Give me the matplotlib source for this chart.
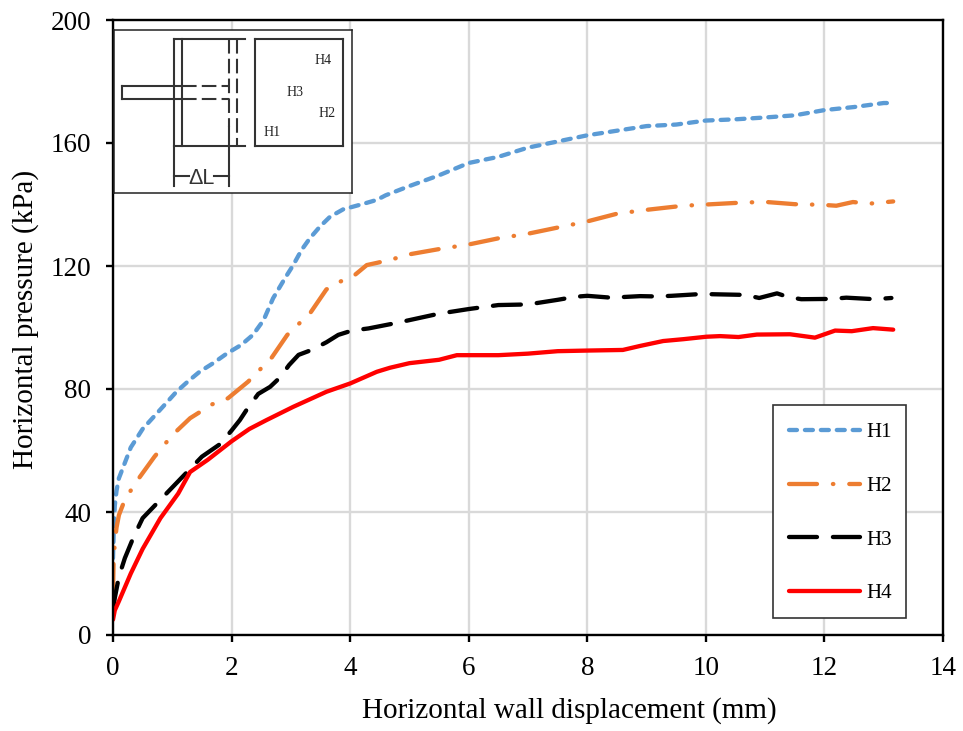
import matplotlib
matplotlib.use("Agg")
import matplotlib.pyplot as plt
from matplotlib.patches import Rectangle

plt.rcParams["font.family"] = ["Liberation Serif", "DejaVu Serif"]

# 곡선 값
h1_x = [0, 0.01, 0.03, 0.06, 0.1, 0.2, 0.3, 0.5, 0.84, 1.07, 1.26, 1.46, 1.69, 1.91, 2.16, 2.36, 2.54, 2.7, 2.9,
        3.04, 3.18, 3.32, 3.49, 3.66, 3.88, 4.22, 4.45, 4.6, 5.0, 5.5, 6.0, 6.5, 7.0, 7.5, 8.0, 8.5, 9.0, 9.5,
        10.0, 10.5, 11.0, 11.5, 12.0, 12.5, 13.0, 13.15]
h1_y = [25, 32, 42, 47, 51, 56, 61, 67, 74.2, 79.1, 82.4, 85.6, 88.4, 91.4, 94.3, 97.6, 102.4, 109.5, 116,
        120.3, 125.2, 129, 132.8, 136, 138.4, 140.2, 141.5, 143, 146, 149.5, 153.5, 155.5, 158.5, 160.5, 162.5, 164, 165.5, 166,
        167.3, 167.7, 168.3, 169, 170.7, 171.7, 173, 173]

h2_x = [0, 0.01, 0.03, 0.06, 0.1, 0.2, 0.4, 0.7, 1.0, 1.3, 1.67, 1.94, 2.28, 2.68, 2.94, 3.33, 3.6, 3.83,
        4.08, 4.28, 4.47, 4.73, 5.0, 5.5, 6.0, 6.5, 7.0, 7.5, 8.0, 8.5, 8.97, 9.48, 9.73, 10.01, 10.49, 10.74, 11.03,
        11.5, 11.76, 12.04, 12.2, 12.48, 12.77, 13.16]
h2_y = [14, 24, 30, 35, 39, 44, 50, 58, 65, 70.5, 75, 77, 82.4, 90.3, 97.6, 104.8, 112.4, 114.9,
        117.1, 120.3, 121.1, 122.3, 123.8, 125.5, 127, 129, 130.5, 132.5, 134.5, 137, 138.2, 139.3, 139.7, 140, 140.5, 140.7, 140.8,
        140.1, 140, 139.8, 139.6, 140.8, 140.3, 141]

h3_x = [0, 0.03, 0.1, 0.2, 0.35, 0.5, 0.7, 1.0, 1.2, 1.5, 1.8, 2.0, 2.14, 2.28, 2.45, 2.65, 2.82, 2.97, 3.13, 3.35, 3.6,
        3.8, 4.03, 4.31, 4.76, 5.0, 5.5, 6.0, 6.5, 7.0, 7.5, 7.8, 8.0, 8.4, 8.89, 9.17, 9.42, 9.93, 10.15, 10.66, 10.9, 11.2,
        11.39, 11.61, 12.12, 12.37, 12.85, 13.13]
h3_y = [8, 12, 19, 25, 32, 38, 42, 48, 52, 58, 62, 66.5, 69.9, 74, 78.4, 80.7, 83.8, 87.8, 91.1, 92.7, 95.2,
        97.6, 99, 99.7, 101.4, 102.4, 104.5, 106, 107.3, 107.5, 109, 110, 110.3, 109.7, 110.2, 110.1, 110.3, 110.9, 110.8, 110.6, 109.6, 111.1,
        109.9, 109.2, 109.3, 109.7, 109.2, 109.6]

h4_x = [0, 0.03, 0.1, 0.3, 0.5, 0.8, 1.1, 1.3, 1.6, 2.0, 2.3, 2.59, 3.04, 3.6, 4.0, 4.45, 4.67,
        5.0, 5.5, 5.8, 6.0, 6.5, 7.0, 7.5, 8.0, 8.6, 8.89, 9.28, 9.62, 10.01, 10.24, 10.55, 10.86, 11.42, 11.84,
        12.18, 12.46, 12.82, 13.16]
h4_y = [5, 8, 11, 20, 28, 38, 46, 53, 57, 63, 67, 69.9, 74.2, 79.1, 81.8, 85.6, 86.9,
        88.4, 89.5, 91, 91, 91, 91.5, 92.3, 92.5, 92.7, 94, 95.6, 96.2, 97, 97.2, 96.9, 97.7, 97.8, 96.7,
        99, 98.8, 99.8, 99.3]

x_ticks = [0, 2, 4, 6, 8, 10, 12, 14]
y_ticks = [0, 40, 80, 120, 160, 200]

W, H = 963, 731
fig = plt.figure(figsize=(W / 100, H / 100), dpi=100)
ax = fig.add_axes([113 / W, 1 - 635 / H, 830 / W, 615 / H])

lw = 3.1
ax.plot(h1_x, h1_y, color="#5B9BD5", lw=lw, ls=(0, (1.85, 1.85)), dash_capstyle="round", label="H1")
ax.plot(h2_x, h2_y, color="#ED7D31", lw=lw, ls=(0, (6.5, 3.7, 0.1, 3.7)), dash_capstyle="round", label="H2")
ax.plot(h3_x, h3_y, color="black", lw=lw, ls=(0, (6.5, 3.7)), dash_capstyle="round", label="H3")
ax.plot(h4_x, h4_y, color="#FF0000", lw=lw, solid_capstyle="round", label="H4")

ax.set_xlim(0, 14)
ax.set_ylim(0, 200)
ax.set_xticks(x_ticks)
ax.set_yticks(y_ticks)
ax.tick_params(labelsize=19.5, width=1.7, length=5, direction="out")
ax.tick_params(axis="x", pad=10)
ax.tick_params(axis="y", pad=10.5)
ax.grid(color="#D9D9D9", lw=1.7)
ax.set_axisbelow(True)
for s in ax.spines.values():
    s.set_linewidth(1.7)
ax.set_xlabel("Horizontal wall displacement (mm)", fontsize=21, labelpad=12, x=(569.5 - 113) / 830)
ax.set_ylabel("Horizontal pressure (kPa)", fontsize=21, labelpad=8.4, y=(635 - 319) / 615)

# 범례 상자
ax.add_patch(Rectangle((773 / W, 1 - 618 / H), 133 / W, 213 / H, transform=fig.transFigure,
                       facecolor="white", edgecolor="#333333", lw=1.2, zorder=4))
leg = ax.legend(loc="center", fontsize=15, frameon=False, handlelength=3.4, handletextpad=0.3,
                labelspacing=1.64, borderpad=0, borderaxespad=0)
leg.set_bbox_to_anchor((840.5 / W, 1 - 513 / H), transform=fig.transFigure)
leg.set_zorder(5)

# 삽입 도식: 좌표는 도식 자체의 임의 단위
inset = fig.add_axes([114 / W, 1 - 192.7 / H, 238 / W, 162.7 / H])
inset.set_xlim(42, 755)
inset.set_ylim(548, 60)
inset.set_xticks([])
inset.set_yticks([])
for s in inset.spines.values():
    s.set_linewidth(1.1)
    s.set_color("#222222")

c = "#333333"
solid = [
    ((222, 435), (87, 87)), ((222, 435), (408, 408)),
    ((222, 222), (87, 528)), ((245, 245), (87, 408)),
    ((67, 245), (228, 228)), ((67, 245), (268, 268)), ((67, 67), (228, 268)),
    ((388, 388), (350, 528)),
    ((222, 268), (497, 497)), ((342, 388), (497, 497)),
    ((465, 727), (87, 87)), ((465, 727), (408, 408)),
    ((465, 465), (87, 408)), ((727, 727), (87, 408)),
]
dashed = [
    ((245, 388), (228, 228)), ((245, 388), (268, 268)),
    ((388, 388), (87, 350)), ((411, 411), (87, 408)),
]
for xs, ys in solid:
    inset.plot(xs, ys, color=c, lw=1.5)
for xs, ys in dashed:
    inset.plot(xs, ys, color=c, lw=1.5, ls=(0, (7, 2.5)))

for label, zx, zy in [("H4", 668, 150), ("H3", 583, 247), ("H2", 680, 309), ("H1", 516, 368)]:
    inset.text(zx, zy, label, fontsize=10, ha="center", va="center", color="#222222")
inset.text(305, 505, "ΔL", fontsize=15.5, ha="center", va="center", color=c, family=["Liberation Sans", "DejaVu Sans"])

fig.savefig("out.png", dpi=100)
